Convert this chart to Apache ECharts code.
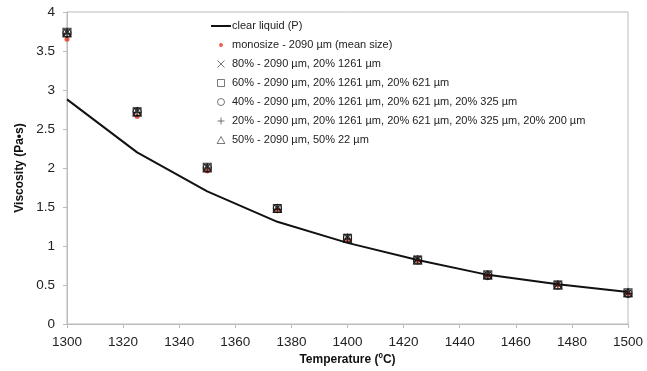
<!DOCTYPE html>
<html>
<head>
<meta charset="utf-8">
<script src="https://cdn.jsdelivr.net/npm/echarts@6/dist/echarts.min.js"></script>
<style>html,body{margin:0;padding:0;background:#fff}#c{width:647px;height:371px}</style>
</head>
<body>
<div id="c"></div>
<script>
const temps = [1300, 1325, 1350, 1375, 1400, 1425, 1450, 1475, 1500];
const clearLiquid = [2.88, 2.20, 1.70, 1.31, 1.04, 0.82, 0.63, 0.51, 0.41];
const monosize = [3.65, 2.66, 1.96, 1.46, 1.08, 0.81, 0.62, 0.50, 0.39];
const mix80 = [3.74, 2.73, 2.01, 1.49, 1.11, 0.83, 0.63, 0.51, 0.40];
const mix60 = [3.74, 2.72, 2.01, 1.48, 1.10, 0.82, 0.63, 0.50, 0.40];
const mix40 = [3.73, 2.72, 2.00, 1.48, 1.10, 0.82, 0.62, 0.50, 0.39];
const mix20 = [3.72, 2.71, 2.00, 1.47, 1.09, 0.82, 0.62, 0.50, 0.39];
const mix50 = [3.73, 2.72, 2.00, 1.48, 1.10, 0.82, 0.63, 0.50, 0.40];
const names = [
  'clear liquid (P)',
  'monosize - 2090 µm (mean size)',
  '80% - 2090 µm, 20% 1261 µm',
  '60% - 2090 µm, 20% 1261 µm, 20% 621 µm',
  '40% - 2090 µm, 20% 1261 µm, 20% 621 µm, 20% 325 µm',
  '20% - 2090 µm, 20% 1261 µm, 20% 621 µm, 20% 325 µm, 20% 200 µm',
  '50% - 2090 µm, 50% 22 µm'
];

const pair = arr => temps.map((t, i) => [t, arr[i]]);
const FONT = '"Liberation Sans", Arial, sans-serif';
const hollow = {color: 'rgba(0,0,0,0)', borderColor: '#111', borderWidth: 1.1};
const legHollow = {color: 'rgba(0,0,0,0)', borderColor: '#444', borderWidth: 0.9};
const SYM = {
  cross: 'path://M0,0L10,10M10,0L0,10',
  square: 'path://M0,0L10,0L10,10L0,10Z',
  circle: 'path://M10,5A5,5,0,1,1,0,5A5,5,0,1,1,10,5Z',
  plus: 'path://M5,0L5,10M0,5L10,5',
  tri: 'path://M5,0L10,9L0,9Z',
  line: 'path://M0,0L20,0L20,2L0,2Z'
};

const chart = echarts.init(document.getElementById('c'));
chart.setOption({
  animation: false,
  textStyle: {fontFamily: FONT},
  grid: {left: 67, right: 19, top: 12, bottom: 44, show: true, borderColor: '#bbb', borderWidth: 1},
  xAxis: {
    type: 'value', min: 1300, max: 1500, interval: 20,
    name: 'Temperature (ºC)', nameLocation: 'middle', nameGap: 30,
    nameTextStyle: {fontSize: 12, fontWeight: 'bold', color: '#111', fontFamily: FONT},
    axisLine: {lineStyle: {color: '#bbb'}},
    axisTick: {show: true, length: 4, lineStyle: {color: '#bbb'}},
    axisLabel: {fontSize: 13.5, color: '#222', margin: 11, fontFamily: FONT, formatter: v => String(v)},
    splitLine: {show: false}
  },
  yAxis: {
    type: 'value', min: 0, max: 4, interval: 0.5,
    name: 'Viscosity (Pa•s)', nameLocation: 'middle', nameGap: 31,
    nameTextStyle: {fontSize: 12, fontWeight: 'bold', color: '#111', fontFamily: FONT},
    axisLine: {show: true, lineStyle: {color: '#bbb'}},
    axisTick: {show: true, length: 4, lineStyle: {color: '#bbb'}},
    axisLabel: {fontSize: 13.5, color: '#222', margin: 12, fontFamily: FONT, formatter: v => String(v)},
    splitLine: {show: false}
  },
  legend: {
    orient: 'vertical', left: 211, top: 20, padding: 0,
    itemWidth: 20, itemHeight: 7, itemGap: 7,
    textStyle: {fontSize: 11, color: '#222', fontFamily: FONT, lineHeight: 12, padding: [0, 0, 0, -4]},
    data: [
      {name: names[0], icon: SYM.line},
      {name: names[1], icon: 'path://M0,0M10,10M7.8,5A2.8,2.8,0,1,1,2.2,5A2.8,2.8,0,1,1,7.8,5Z', itemStyle: {color: '#e8321e', borderWidth: 0}},
      {name: names[2], icon: SYM.cross, itemStyle: legHollow},
      {name: names[3], icon: SYM.square, itemStyle: legHollow},
      {name: names[4], icon: SYM.circle, itemStyle: legHollow},
      {name: names[5], icon: SYM.plus, itemStyle: legHollow},
      {name: names[6], icon: SYM.tri, itemStyle: legHollow}
    ]
  },
  series: [
    {name: names[0], type: 'line', data: pair(clearLiquid), symbol: 'none',
     lineStyle: {color: '#111', width: 2}, itemStyle: {color: '#111'}, z: 2},
    {name: names[1], type: 'scatter', data: pair(monosize), symbol: 'circle', symbolSize: 5,
     itemStyle: {color: '#e8321e'}, z: 3},
    {name: names[2], type: 'scatter', data: pair(mix80), symbol: SYM.cross, symbolSize: 7,
     itemStyle: hollow, z: 4},
    {name: names[3], type: 'scatter', data: pair(mix60), symbol: SYM.square, symbolSize: 8,
     itemStyle: hollow, z: 4},
    {name: names[4], type: 'scatter', data: pair(mix40), symbol: SYM.circle, symbolSize: 8,
     itemStyle: hollow, z: 4},
    {name: names[5], type: 'scatter', data: pair(mix20), symbol: SYM.plus, symbolSize: 8,
     itemStyle: hollow, z: 4},
    {name: names[6], type: 'scatter', data: pair(mix50), symbol: SYM.tri, symbolSize: 8,
     itemStyle: hollow, z: 4}
  ]
});
</script>
</body>
</html>
